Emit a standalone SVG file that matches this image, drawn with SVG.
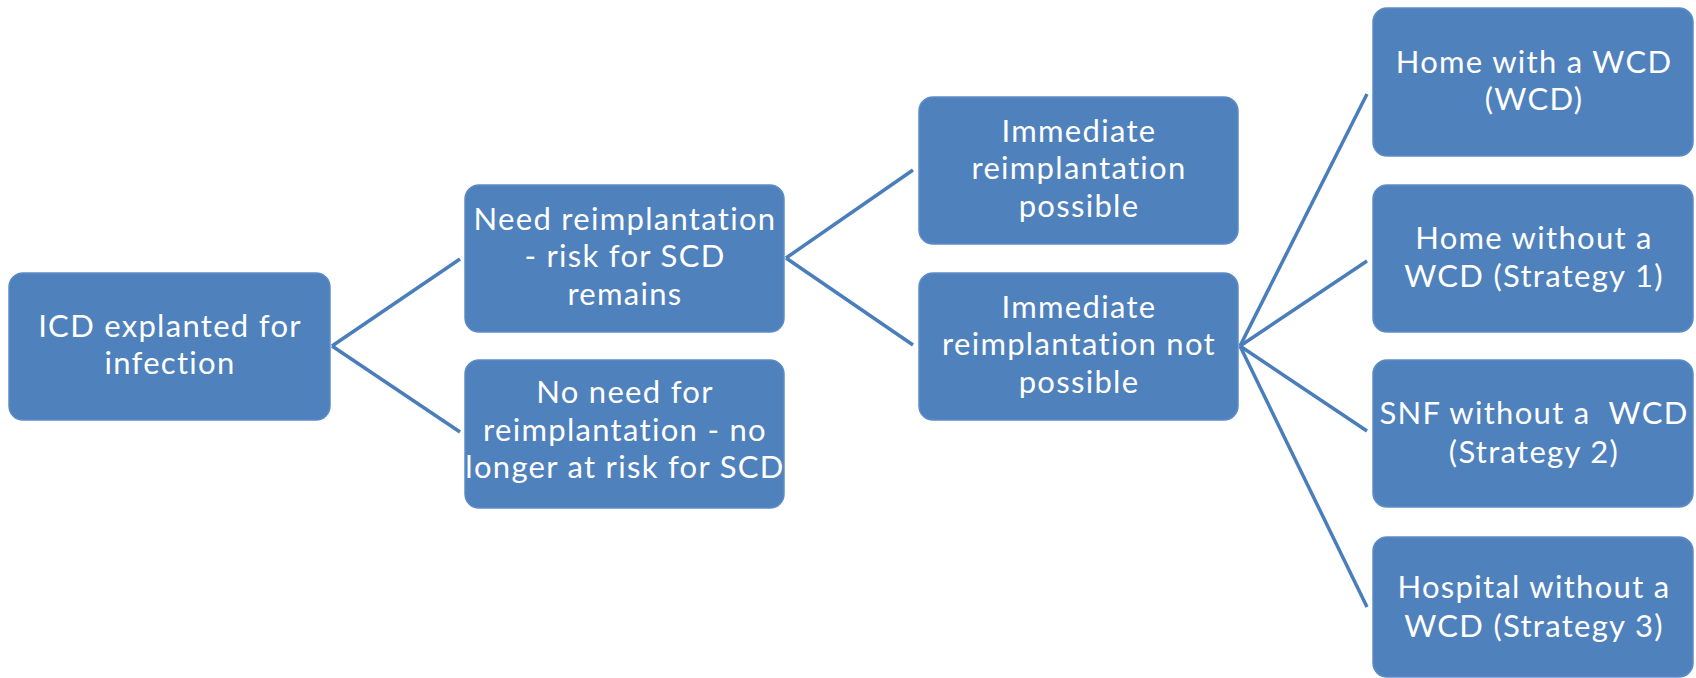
<svg xmlns="http://www.w3.org/2000/svg" width="1696" height="678" viewBox="0 0 1696 678">
<style>
.box{fill:#4F81BD;stroke:#5D8CC6;stroke-width:1.5}
.t{font-family:Lato,"Open Sans","Liberation Sans",sans-serif;font-size:31px;fill:#FFFFFF;text-anchor:middle;letter-spacing:1.3px}
.c{stroke:#4A7EBB;stroke-width:3.5;fill:none;stroke-linecap:butt}
</style>
<rect width="1696" height="678" fill="#FFFFFF"/>
<g id="connectors">
<line class="c" x1="332" y1="346" x2="460" y2="259"/>
<line class="c" x1="332" y1="346" x2="460" y2="432"/>
<line class="c" x1="786" y1="258" x2="913" y2="170"/>
<line class="c" x1="786" y1="258" x2="913" y2="345"/>
<line class="c" x1="1240" y1="346" x2="1367" y2="94"/>
<line class="c" x1="1240" y1="346" x2="1367" y2="261"/>
<line class="c" x1="1240" y1="346" x2="1367" y2="431"/>
<line class="c" x1="1240" y1="346" x2="1367" y2="607"/>
</g>
<g id="n1">
<rect class="box" x="9" y="273" width="321" height="147" rx="14"/>
<text class="t" x="170" y="337">ICD explanted for</text>
<text class="t" x="170" y="374">infection</text>
</g>
<g id="n2">
<rect class="box" x="465" y="185" width="319" height="147" rx="14"/>
<text class="t" x="625" y="230">Need reimplantation</text>
<text class="t" x="625" y="267">- risk for SCD</text>
<text class="t" x="625" y="305">remains</text>
</g>
<g id="n3">
<rect class="box" x="465" y="360" width="319" height="148" rx="14"/>
<text class="t" x="625" y="403">No need for</text>
<text class="t" x="625" y="441">reimplantation - no</text>
<text class="t" x="625" y="478">longer at risk for SCD</text>
</g>
<g id="n4">
<rect class="box" x="919" y="97" width="319" height="147" rx="14"/>
<text class="t" x="1079" y="142">Immediate</text>
<text class="t" x="1079" y="179">reimplantation</text>
<text class="t" x="1079" y="217">possible</text>
</g>
<g id="n5">
<rect class="box" x="919" y="273" width="319" height="147" rx="14"/>
<text class="t" x="1079" y="318">Immediate</text>
<text class="t" x="1079" y="355">reimplantation not</text>
<text class="t" x="1079" y="393">possible</text>
</g>
<g id="n6">
<rect class="box" x="1373" y="8" width="320" height="148" rx="14"/>
<text class="t" x="1534" y="73">Home with a WCD</text>
<text class="t" x="1534" y="110">(WCD)</text>
</g>
<g id="n7">
<rect class="box" x="1373" y="185" width="320" height="147" rx="14"/>
<text class="t" x="1534" y="249">Home without a</text>
<text class="t" x="1534" y="287">WCD (Strategy 1)</text>
</g>
<g id="n8">
<rect class="box" x="1373" y="360" width="320" height="147" rx="14"/>
<text class="t" x="1534" y="424" style="white-space:pre" xml:space="preserve">SNF without a  WCD</text>
<text class="t" x="1534" y="463">(Strategy 2)</text>
</g>
<g id="n9">
<rect class="box" x="1373" y="537" width="320" height="140" rx="14"/>
<text class="t" x="1534" y="598">Hospital without a</text>
<text class="t" x="1534" y="637">WCD (Strategy 3)</text>
</g>
</svg>
